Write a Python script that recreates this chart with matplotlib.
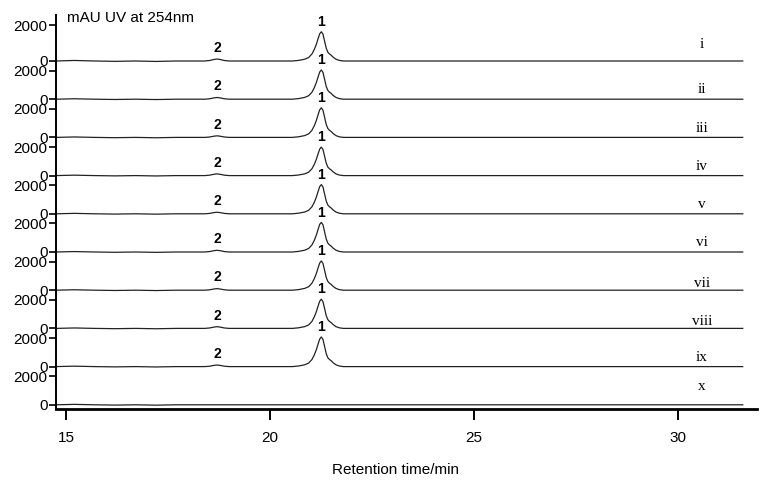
import numpy as np
import matplotlib
matplotlib.use("Agg")
import matplotlib.pyplot as plt

plt.rcParams['font.family'] = ['Liberation Sans', 'DejaVu Sans']

# sample names, top to bottom
samples = ["i", "ii", "iii", "iv", "v", "vi", "vii", "viii", "ix", "x"]

# peak heights (mAU) per sample
peak1_height = [1630, 2050, 2080, 2000, 2050, 2080, 2050, 2050, 2080, 0]
peak2_height = [110, 120, 110, 120, 110, 120, 110, 120, 110, 0]
# y-axis scale of each panel (first panel is drawn on a stretched scale)
row_scale = [1.26, 1, 1, 1, 1, 1, 1, 1, 1, 1]
# height of sample name above its baseline (mAU)
name_height = [1150, 650, 650, 650, 650, 650, 450, 450, 650, 1250]

# retention times of the peaks (min)
rt1 = 21.26
rt2 = 18.70

# relative shape of peak 1 (time, fraction of apex)
p1_time = [20.55, 20.70, 20.85, 20.95, 21.03, 21.09, 21.14, 21.18, 21.22, 21.26,
           21.30, 21.34, 21.38, 21.42, 21.46, 21.50, 21.55, 21.62, 21.70, 21.80]
p1_frac = [0.0, 0.02, 0.06, 0.12, 0.24, 0.40, 0.58, 0.76, 0.93, 1.0,
           0.92, 0.68, 0.44, 0.30, 0.24, 0.20, 0.13, 0.06, 0.02, 0.0]
# relative shape of peak 2
p2_time = [18.40, 18.52, 18.62, 18.70, 18.78, 18.88, 19.00]
p2_frac = [0.0, 0.25, 0.75, 1.0, 0.75, 0.25, 0.0]
# small baseline wiggles near the start (time, mAU)
base_time = [14.75, 15.2, 15.7, 16.2, 16.7, 17.2, 17.7, 18.2]
base_val = [0, 30, 0, -20, 0, -25, 0, 0]

t_start, t_end = 14.75, 31.6
spacing = 2681

x_ticks = [15, 20, 25, 30]

fig = plt.figure(figsize=(7.68, 4.93), dpi=100)
ax = fig.add_axes([56 / 768, 84 / 493, 701 / 768, 394 / 493])

t = np.concatenate([base_time, p2_time, p1_time, [t_end]])
order = np.argsort(t)

ytick_pos = []
ytick_lab = []
for k, name in enumerate(samples):
    off = (len(samples) - 1 - k) * spacing
    sc = row_scale[k]
    sig = np.concatenate([base_val,
                          np.array(p2_frac) * peak2_height[k],
                          np.array(p1_frac) * peak1_height[k],
                          [0]])
    ax.plot(t[order], off + sig[order] * sc, color="#222222", lw=0.9)

    if peak1_height[k] > 0:
        ax.annotate("1", xy=(rt1, off + peak1_height[k] * sc), xytext=(0, 2),
                    textcoords="offset points", ha="center", va="bottom",
                    fontsize=10, fontweight="bold")
        ax.annotate("2", xy=(rt2, off + peak2_height[k] * sc), xytext=(0, 3),
                    textcoords="offset points", ha="center", va="bottom",
                    fontsize=10, fontweight="bold")
    ax.text(30.6, off + name_height[k], name, ha="center", va="center",
            fontsize=11, family=["Liberation Serif", "DejaVu Serif"])

    ytick_pos += [off, off + 2000 * sc]
    ytick_lab += ["0", "2000"]

ax.set_yticks(ytick_pos)
ax.set_yticklabels(ytick_lab)
ax.set_xticks(x_ticks)
ax.set_xlim(14.75, 31.95)
ax.set_ylim(-295, 27357)

for s in ["top", "right"]:
    ax.spines[s].set_visible(False)
ax.spines["left"].set_linewidth(1.4)
ax.spines["bottom"].set_linewidth(2)
ax.tick_params(axis="y", direction="out", length=5, width=1.2, labelsize=11, pad=1)
ax.tick_params(axis="x", direction="out", length=8, width=1.4, labelsize=11, pad=8)

fig.text(67 / 768, 1 - 18 / 493, "mAU UV at 254nm", fontsize=11, ha="left", va="center")
fig.text(395 / 768, 1 - 470 / 493, "Retention time/min", fontsize=11, ha="center", va="center")

fig.savefig("out.png", dpi=100)
